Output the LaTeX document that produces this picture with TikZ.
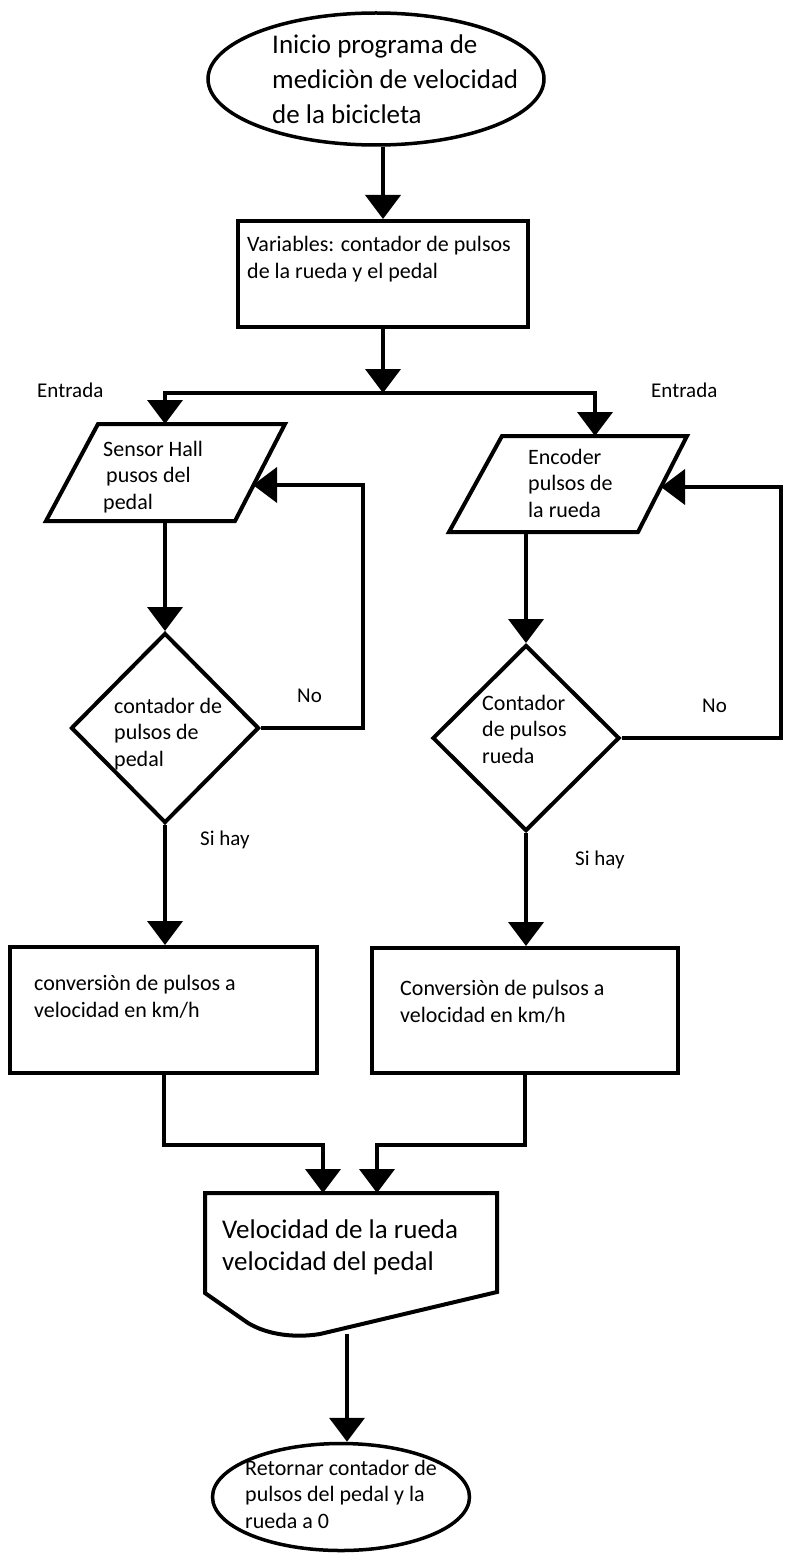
\documentclass[tikz,border=0pt]{standalone}
\usepackage{fontspec}
\setmainfont{Carlito}
\usetikzlibrary{arrows.meta,shapes.geometric,calc}
\begin{document}
\begin{tikzpicture}[x=1pt,y=-1pt,
  shapeline/.style={draw=black,line width=4pt,line join=miter},
  wire/.style={draw=black,line width=4pt,line join=miter},
  flow/.style={wire,-{Triangle[width=35pt,length=24pt]}},
  tag/.style={inner sep=0pt,anchor=base west,align=left,font=\fontsize{21}{26}\selectfont},
  txt/.style={tag,font=\fontsize{22}{26.5}\selectfont},
  bigtxt/.style={tag,font=\fontsize{27}{35}\selectfont},
  outtxt/.style={tag,font=\fontsize{27}{32}\selectfont},
]
\useasboundingbox (0,0) rectangle (784,1554);

% Text nodes are placed by the baseline of their last line.

% --- start terminal
\node[ellipse,shapeline,line width=3.5pt,minimum width=336,minimum height=132,inner sep=0pt] (start) at (376,79) {};
\node[bigtxt] (startT) at (272,124) {Inicio programa de\\mediciòn de velocidad\\de la bicicleta};

% --- variables
\node[rectangle,shapeline,minimum width=290,minimum height=106,inner sep=0pt] (var) at (383,274) {};
\node[txt] (varT) at (247,278) {Variables: contador de pulsos\\de la rueda y el pedal};

\coordinate (split) at (383,393);

% --- input: hall sensor (pedal)
\coordinate (hallTL) at (98,424);
\coordinate (hallTR) at (285,424);
\coordinate (hallBR) at (235,521);
\coordinate (hallBL) at (46,521);
\draw[shapeline] (hallTL) -- (hallTR) -- (hallBR) -- (hallBL) -- cycle;
\node[txt] (hallT) at (103,509) {Sensor Hall\\\hspace*{3pt}pusos del\\pedal};
\coordinate (hallTop) at (165,424);
\coordinate (hallBot) at (165,521);
\coordinate (hallIn) at (253,485);
\coordinate (loop1) at (363,485);

% --- input: encoder (wheel)
\coordinate (encTL) at (502,436);
\coordinate (encTR) at (687,436);
\coordinate (encBR) at (638,532);
\coordinate (encBL) at (449,532);
\draw[shapeline] (encTL) -- (encTR) -- (encBR) -- (encBL) -- cycle;
\node[txt] (encT) at (528,517) {Encoder\\pulsos de\\la rueda};
\coordinate (encTop) at (595,436);
\coordinate (encBot) at (526,532);
\coordinate (encIn) at (661,487);
\coordinate (loop2) at (781,487);

\node[tag] (entrada1) at (37,397) {Entrada};
\node[tag] (entrada2) at (651,397) {Entrada};

% --- decisions
\node[diamond,shapeline,minimum width=188,minimum height=190,inner sep=0pt] (chk1) at (165,728) {};
\node[txt] (chk1T) at (114,766) {contador de\\pulsos de\\pedal};
\node[diamond,shapeline,minimum width=187,minimum height=186,inner sep=0pt] (chk2) at (526,738) {};
\node[txt] (chk2T) at (482,763) {Contador\\de pulsos\\rueda};

\node[tag] (no1) at (297,702) {No};
\node[tag] (no2) at (702,712) {No};
\node[tag] (si1) at (200,845) {Si hay};
\node[tag] (si2) at (575,865) {Si hay};

% --- conversions
\node[rectangle,shapeline,minimum width=307,minimum height=126,inner sep=0pt] (conv1) at (163.5,1010) {};
\node[txt] (conv1T) at (34,1017) {conversiòn de pulsos a\\velocidad en km/h};
\node[rectangle,shapeline,minimum width=306,minimum height=125,inner sep=0pt] (conv2) at (525,1010.5) {};
\node[txt] (conv2T) at (400,1022) {Conversiòn de pulsos a\\velocidad en km/h};

\coordinate (j1) at (323,1145);
\coordinate (j2) at (377,1145);
\coordinate (outIn1) at (323,1193);
\coordinate (outIn2) at (377,1193);

% --- display output
\draw[shapeline] (205,1293) -- (205,1193) -- (497,1193) -- (497,1292)
  -- (320,1334) .. controls (295,1338) and (268,1335) .. (248,1323) -- cycle;
\node[outtxt] (outT) at (222,1270) {Velocidad de la rueda\\velocidad del pedal};
\coordinate (outBot) at (347,1334);

% --- end terminal
\node[ellipse,shapeline,line width=3.5pt,minimum width=257,minimum height=107,inner sep=0pt] (endn) at (341,1497) {};
\node[txt] (endT) at (245,1528) {Retornar contador de\\pulsos del pedal y la\\rueda a 0};

% --- connectors
\draw[flow] (var.north |- start.south) -- (var.north);
\draw[flow] (var.south) -- (split);
\draw[flow] (split) -| (hallTop);
\draw[flow] (split) -| (encTop);
\draw[flow] (hallBot) -- (chk1.north);
\draw[flow] (encBot) -- (chk2.north);
\draw[flow] (chk1.east) -| (loop1) -- (hallIn);
\draw[flow] (chk2.east) -| (loop2) -- (encIn);
\draw[flow] (chk1.south) -- (chk1.south |- conv1.north);
\draw[flow] (chk2.south) -- (chk2.south |- conv2.north);
\draw[flow] (conv1.south) |- (j1) -- (outIn1);
\draw[flow] (conv2.south) |- (j2) -- (outIn2);
\draw[flow] (outBot) -- (outBot |- endn.north);
\end{tikzpicture}
\end{document}
